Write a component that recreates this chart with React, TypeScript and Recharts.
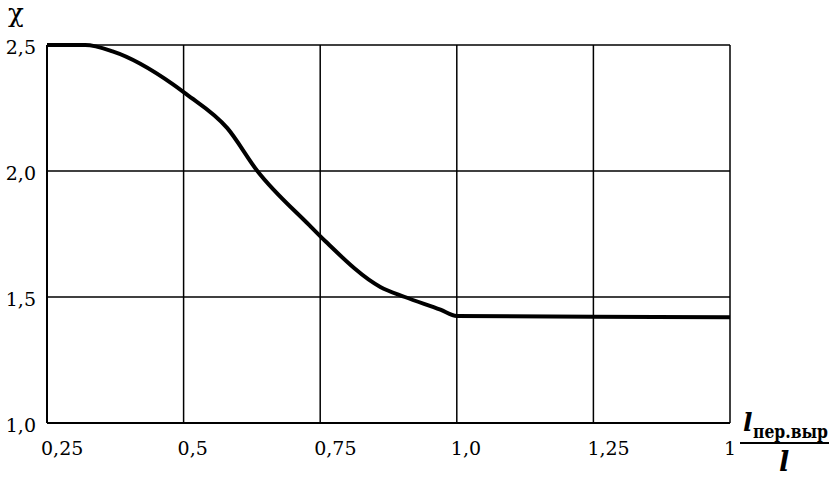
import React from 'react';
import { LineChart, Line, XAxis, YAxis, CartesianGrid, Customized } from 'recharts';

const ratioX = [0.25, 0.32, 0.37, 0.48, 0.505, 0.58, 0.635, 0.73, 0.76, 0.86, 0.905, 0.97, 1.0, 1.25, 1.5];
const chiY = [2.5, 2.5, 2.475, 2.345, 2.305, 2.17, 2.0, 1.785, 1.72, 1.54, 1.5, 1.45, 1.425, 1.422, 1.42];

const xTicks = [0.25, 0.5, 0.75, 1.0, 1.25, 1.5];
const xTickLabels = ['0,25', '0,5', '0,75', '1,0', '1,25', '1'];
const yTicks = [1.0, 1.5, 2.0, 2.5];
const yTickLabels = ['1,0', '1,5', '2,0', '2,5'];

const data = ratioX.map((x, i) => ({ x, y: chiY[i] }));

const SERIF = 'DejaVu Serif';

const XTick = (props: any) => {
  const { x, payload, index } = props;
  const i = xTicks.indexOf(payload.value);
  return (
    <text x={x - 6} y={455} textAnchor="start" fontSize={19} fill="#000" fontFamily={SERIF}>
      {xTickLabels[i >= 0 ? i : index]}
    </text>
  );
};

const YTick = (props: any) => {
  const { y, payload, index } = props;
  const i = yTicks.indexOf(payload.value);
  return (
    <text x={36} y={y + 9} textAnchor="end" fontSize={19} fill="#000" fontFamily={SERIF}>
      {yTickLabels[i >= 0 ? i : index]}
    </text>
  );
};

const AxisTitles = () => (
  <g>
    <text x={8} y={22} fontSize={26} fill="#000" fontFamily={SERIF}>χ</text>
    <text x={743} y={431} fontSize={25} fontStyle="italic" fontWeight="bold" fill="#000" fontFamily={SERIF}>l</text>
    <text x={753} y={438} fontSize={18} fontWeight="bold" fill="#000" fontFamily={SERIF} textLength={75} lengthAdjust="spacingAndGlyphs">пер.выр</text>
    <line x1={740} x2={829} y1={443} y2={443} stroke="#000" strokeWidth={1.8} />
    <text x={779} y={471} fontSize={27} fontStyle="italic" fontWeight="bold" fill="#000" fontFamily={SERIF}>l</text>
  </g>
);

export default function App() {
  return (
    <div style={{ position: 'absolute', left: 0, top: 0, background: '#fff' }}>
      <LineChart
        width={836}
        height={477}
        data={data}
        margin={{ top: 45, right: 106, left: 0, bottom: 0 }}
      >
        <CartesianGrid stroke="#000" strokeWidth={1.5} horizontal vertical />
        <XAxis
          dataKey="x"
          type="number"
          domain={[0.25, 1.5]}
          ticks={xTicks}
          height={54}
          axisLine={{ stroke: '#000', strokeWidth: 2 }}
          tickLine={false}
          tick={<XTick />}
          interval={0}
        />
        <YAxis
          type="number"
          domain={[1.0, 2.5]}
          ticks={yTicks}
          width={47}
          axisLine={{ stroke: '#000', strokeWidth: 2 }}
          tickLine={false}
          tick={<YTick />}
          interval={0}
        />
        <Line
          dataKey="y"
          type="monotone"
          stroke="#000"
          strokeWidth={4}
          dot={false}
          isAnimationActive={false}
        />
        <Customized component={AxisTitles} />
      </LineChart>
    </div>
  );
}
